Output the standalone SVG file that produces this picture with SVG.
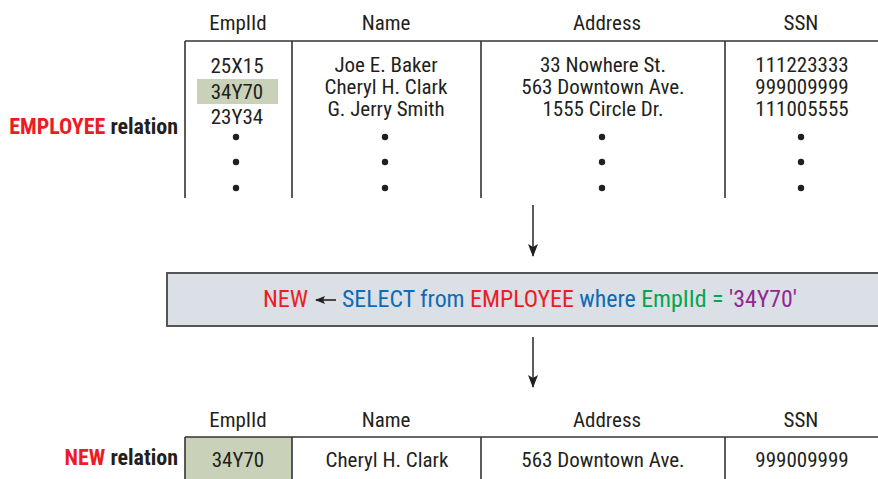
<svg xmlns="http://www.w3.org/2000/svg" width="878" height="479" viewBox="0 0 878 479">
<style>
text{font-family:"Liberation Sans Narrow","Roboto Condensed","Liberation Sans",sans-serif;font-size:21px;fill:#231f20;text-anchor:middle}
.lbl{font-weight:bold;text-anchor:end;font-size:22px}
.q{font-size:24px}
.red{fill:#ed1c24}
.blue{fill:#0c6cb7}
.green{fill:#00a651}
.purple{fill:#92278f}
.ln{stroke:#333;stroke-width:1.6;fill:none}
.hl{fill:#c9d2b9}
.dot{fill:#231f20}
</style>
<defs>
<marker id="ah" markerWidth="13" markerHeight="10" refX="12" refY="5" orient="auto" markerUnits="userSpaceOnUse" viewBox="0 0 13 10">
<path d="M0,0 L13,5 L0,10 L3,5 Z" fill="#231f20"/>
</marker>
<marker id="ahs" markerWidth="10" markerHeight="8" refX="9" refY="4" orient="auto" markerUnits="userSpaceOnUse" viewBox="0 0 10 8">
<path d="M0,0 L10,4 L0,8 L2,4 Z" fill="#231f20"/>
</marker>
</defs>

<g id="employee-relation">
<text class="lbl" x="178" y="134"><tspan class="red">EMPLOYEE</tspan> relation</text>
<rect class="hl" x="197" y="79" width="81" height="25"/>
<line class="ln" x1="185" y1="41" x2="878" y2="41"/>
<line class="ln" x1="185" y1="41" x2="185" y2="198"/>
<line class="ln" x1="292" y1="41" x2="292" y2="198"/>
<line class="ln" x1="481" y1="41" x2="481" y2="198"/>
<line class="ln" x1="725" y1="41" x2="725" y2="198"/>
<text x="238" y="30">EmpIId</text>
<text x="386" y="30">Name</text>
<text x="607" y="30">Address</text>
<text x="801" y="30">SSN</text>
<text x="237" y="73">25X15</text>
<text x="237" y="99">34Y70</text>
<text x="237" y="124">23Y34</text>
<text x="386" y="72">Joe E. Baker</text>
<text x="386" y="94">Cheryl H. Clark</text>
<text x="386" y="116">G. Jerry Smith</text>
<text x="603" y="72">33 Nowhere St.</text>
<text x="603" y="94">563 Downtown Ave.</text>
<text x="603" y="116">1555 Circle Dr.</text>
<text x="802" y="72">111223333</text>
<text x="802" y="94">999009999</text>
<text x="802" y="116">111005555</text>
<g class="dot">
<circle cx="236" cy="137" r="3.2"/><circle cx="236" cy="162" r="3.2"/><circle cx="236" cy="188" r="3.2"/>
<circle cx="385" cy="137" r="3.2"/><circle cx="385" cy="162" r="3.2"/><circle cx="385" cy="188" r="3.2"/>
<circle cx="602" cy="137" r="3.2"/><circle cx="602" cy="162" r="3.2"/><circle cx="602" cy="188" r="3.2"/>
<circle cx="801" cy="137" r="3.2"/><circle cx="801" cy="162" r="3.2"/><circle cx="801" cy="188" r="3.2"/>
</g>
</g>

<g id="query">
<rect x="167" y="273" width="720" height="53" fill="#dbe0e6" stroke="#555" stroke-width="2"/>
<text class="q red" x="308" y="307" style="text-anchor:end">NEW</text>
<line x1="336" y1="300" x2="316" y2="300" stroke="#231f20" stroke-width="1.6" marker-end="url(#ahs)"/>
<text class="q" x="342" y="307" style="text-anchor:start" textLength="455" lengthAdjust="spacingAndGlyphs"><tspan class="blue">SELECT from</tspan> <tspan class="red">EMPLOYEE</tspan> <tspan class="blue">where</tspan> <tspan class="green">EmpIId =</tspan> <tspan class="purple">'34Y70'</tspan></text>
</g>

<g id="new-relation">
<text class="lbl" x="178" y="465"><tspan class="red">NEW</tspan> relation</text>
<rect class="hl" x="185" y="437" width="107" height="42"/>
<line class="ln" x1="185" y1="437" x2="878" y2="437"/>
<line class="ln" x1="185" y1="437" x2="185" y2="479"/>
<line class="ln" x1="292" y1="437" x2="292" y2="479"/>
<line class="ln" x1="481" y1="437" x2="481" y2="479"/>
<line class="ln" x1="725" y1="437" x2="725" y2="479"/>
<text x="238" y="427">EmpIId</text>
<text x="386" y="427">Name</text>
<text x="607" y="427">Address</text>
<text x="801" y="427">SSN</text>
<text x="238" y="467">34Y70</text>
<text x="387" y="467">Cheryl H. Clark</text>
<text x="603" y="467">563 Downtown Ave.</text>
<text x="802" y="467">999009999</text>
</g>

<g id="connectors">
<line class="ln" x1="533" y1="205" x2="533" y2="256" marker-end="url(#ah)"/>
<line class="ln" x1="533" y1="337" x2="533" y2="387" marker-end="url(#ah)"/>
</g>
</svg>
